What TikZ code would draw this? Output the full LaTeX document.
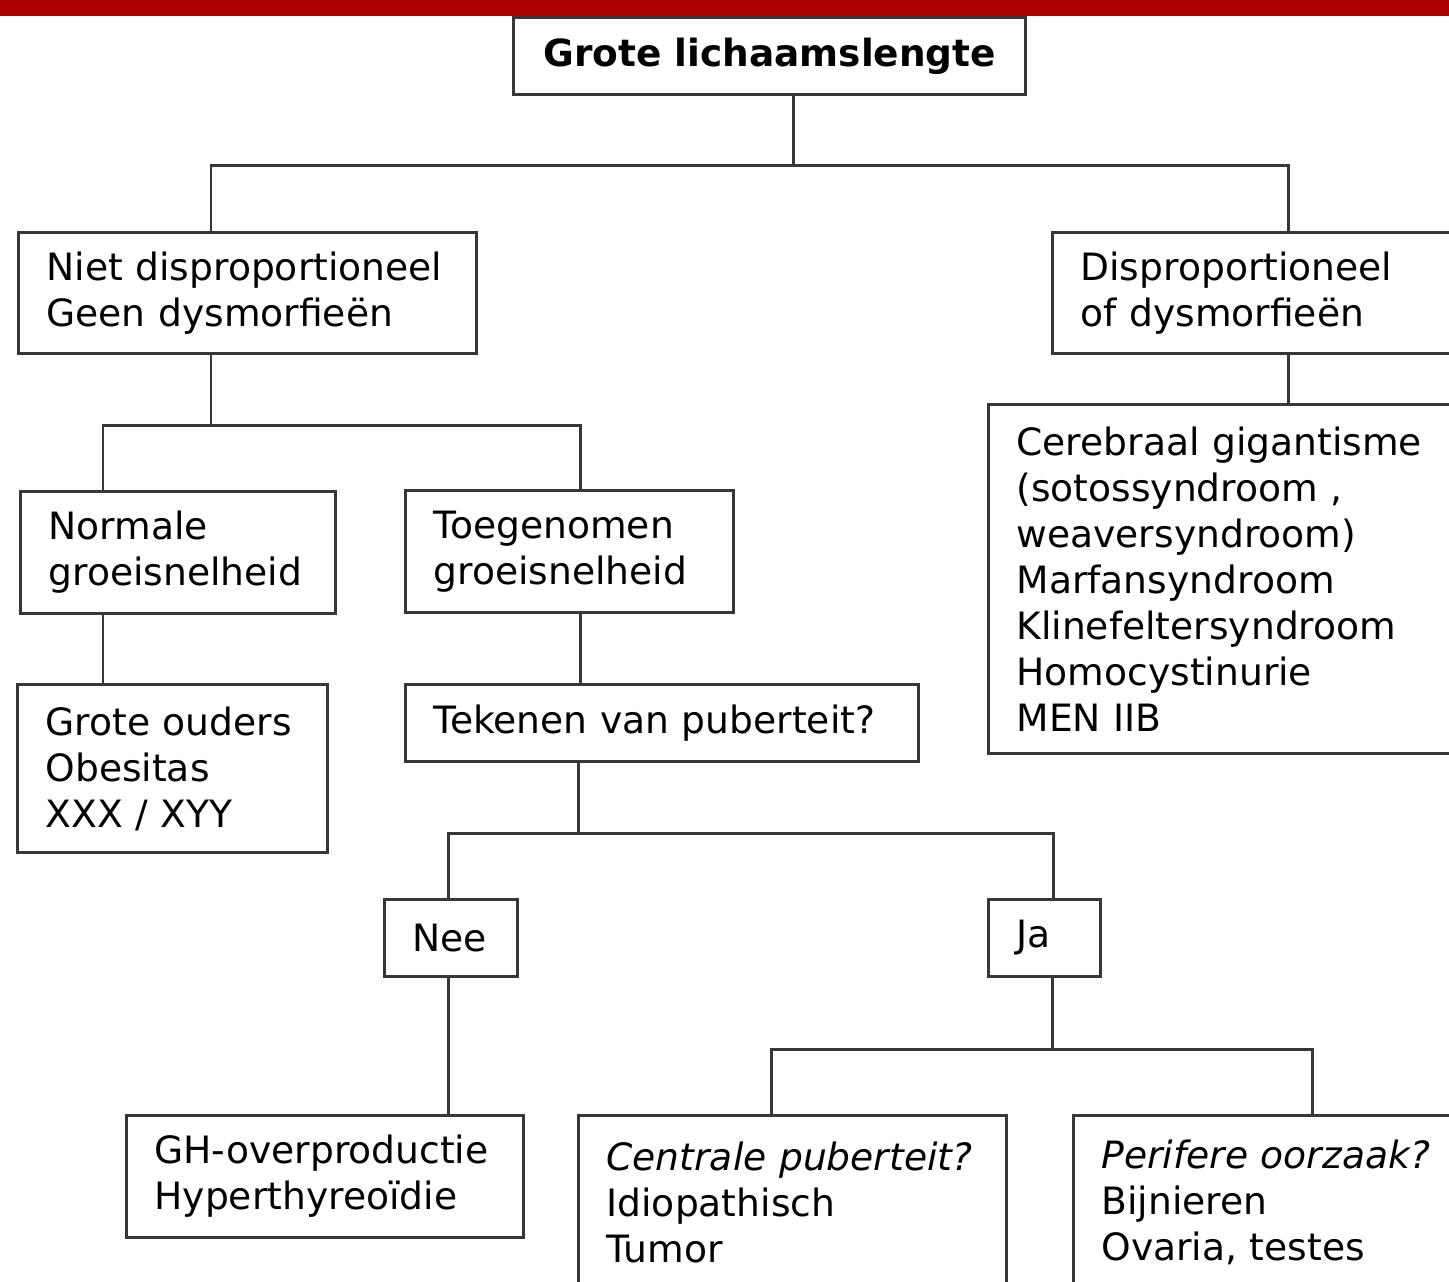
\documentclass[tikz,border=0pt]{standalone}
\usepackage{fontspec}
\setmainfont{DejaVu Sans}
\usepackage{tikz}

\definecolor{balkrood}{RGB}{170,0,0}
\definecolor{lijngrijs}{RGB}{55,55,55}

\tikzset{
	vak/.style={draw=lijngrijs, line width=0.85pt, anchor=north west, inner xsep=0.28cm, inner ysep=0pt, align=left, font=\fontsize{10.7}{13.1}\selectfont},
	lijn/.style={draw=lijngrijs, line width=0.85pt}
}

\begin{document}
\begin{tikzpicture}[x=0.01cm, y=-0.01cm]
				\useasboundingbox (0,0) rectangle (1449,1281);
				\clip (0,0) rectangle (1449,1281);
				
				% vakjes
				\node[vak, align=center, inner xsep=0pt, minimum width=5.12cm, minimum height=0.77cm, font=\fontsize{10.65}{13.1}\selectfont\bfseries] (titel) at (512,16) {Grote lichaamslengte};
				\node[vak, text width=4.02cm, minimum height=1.21cm] (niet) at (17,231) {Niet disproportioneel\\Geen dysmorfieën};
				\node[vak, text width=3.80cm, minimum height=1.21cm] (dispr) at (1051,231) {Disproportioneel\\of dysmorfieën};
				\node[vak, text width=2.59cm, minimum height=1.22cm] (normaal) at (19,490) {Normale\\groeisnelheid};
				\node[vak, text width=2.72cm, minimum height=1.22cm] (toegen) at (404,489) {Toegenomen\\groeisnelheid};
				\node[vak, text width=2.54cm, minimum height=1.68cm] (ouders) at (16,683) {Grote ouders\\Obesitas\\XXX / XYY};
				\node[vak, text width=4.57cm, minimum height=0.77cm] (puber) at (404,683) {Tekenen van puberteit?};
				\node[vak, text width=4.40cm, minimum height=3.49cm] (cereb) at (987,403) {Cerebraal gigantisme\\(sotossyndroom ,\\weaversyndroom)\\Marfansyndroom\\Klinefeltersyndroom\\Homocystinurie\\MEN IIB};
				\node[vak, text width=0.77cm, minimum height=0.77cm] (nee) at (383,898) {Nee};
				\node[vak, text width=0.56cm, minimum height=0.77cm] (ja) at (987,898) {Ja};
				\node[vak, text width=3.41cm, minimum height=1.22cm] (gh) at (125,1114) {GH-overproductie\\Hyperthyreoïdie};
				\node[vak, text width=3.72cm, minimum height=1.74cm] (centr) at (577,1114) {\textit{Centrale puberteit?}\\Idiopathisch\\Tumor};
				\node[vak, text width=3.80cm, minimum height=1.74cm] (perif) at (1072,1114) {\textit{Perifere oorzaak?}\\Bijnieren\\Ovaria, testes};
				
				% rode balk
				\fill[balkrood] (0,0) rectangle (1449,16);
				
				% lijnen
				\coordinate (a0) at (793,165);
				\coordinate (a1) at (211,165);
				\coordinate (a2) at (1288,165);
				\draw[lijn] (a0 |- titel.south) -- (a0);
				\draw[lijn] (a1 |- niet.north) -- (a1) -- (a2) -- (a2 |- dispr.north);
				\draw[lijn] (a2 |- dispr.south) -- (a2 |- cereb.north);
				
				\coordinate (b1) at (103,425);
				\coordinate (b2) at (580,425);
				\draw[lijn] (a1 |- niet.south) -- (a1 |- b1);
				\draw[lijn] (b1 |- normaal.north) -- (b1) -- (b2) -- (b2 |- toegen.north);
				\draw[lijn] (b1 |- normaal.south) -- (b1 |- ouders.north);
				\draw[lijn] (b2 |- toegen.south) -- (b2 |- puber.north);
				
				\coordinate (c0) at (578,833);
				\coordinate (c1) at (448,833);
				\coordinate (c2) at (1053,833);
				\draw[lijn] (c0 |- puber.south) -- (c0);
				\draw[lijn] (c1 |- nee.north) -- (c1) -- (c2) -- (c2 |- ja.north);
				\draw[lijn] (c1 |- nee.south) -- (c1 |- gh.north);
				
				\coordinate (d0) at (1052,1049);
				\coordinate (d1) at (771,1049);
				\coordinate (d2) at (1312,1049);
				\draw[lijn] (d0 |- ja.south) -- (d0);
				\draw[lijn] (d1 |- centr.north) -- (d1) -- (d2) -- (d2 |- perif.north);
				
			\end{tikzpicture}
\end{document}
